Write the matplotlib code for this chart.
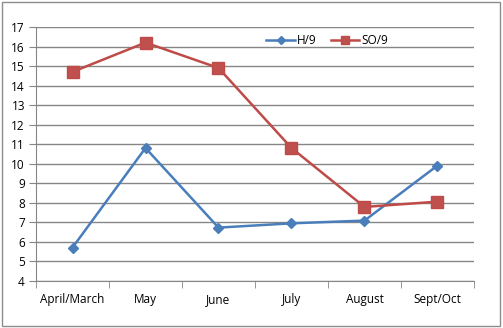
import matplotlib
matplotlib.use("Agg")
import matplotlib.pyplot as plt
from matplotlib.patches import Rectangle

months = ["April/March", "May", "June", "July", "August", "Sept/Oct"]
h9 = [5.7, 10.8, 6.72, 6.94, 7.08, 9.9]
so9 = [14.7, 16.2, 14.9, 10.8, 7.78, 8.05]

plt.rcParams["font.family"] = ["Open Sans", "DejaVu Sans"]

fig = plt.figure(figsize=(5.03, 3.28), dpi=100)
ax = fig.add_axes([0.0716, 0.1442, 0.8707, 0.7735])

# outer chart border
fig.patches.append(Rectangle((0.004, 0.007), 0.991, 0.988, transform=fig.transFigure,
                             fill=False, edgecolor="#8c8c8c", linewidth=1.0))

x = list(range(len(months)))
ax.plot(x, h9, color="#4A7EBB", linewidth=1.8, marker="D", markersize=5.5,
        markerfacecolor="#4A7EBB", markeredgecolor="#4A7EBB", label="H/9", zorder=3)
ax.plot(x, so9, color="#BE4B48", linewidth=1.8, marker="s", markersize=8,
        markerfacecolor="#C0504D", markeredgecolor="#BE4B48", label="SO/9", zorder=3)

ax.set_xlim(-0.5, len(months) - 0.5)
ax.set_ylim(4, 17)
ax.set_yticks(range(4, 18))
ax.set_xticks(x)
ax.set_xticklabels(months)
ax.set_xticks([i - 0.5 for i in range(len(months) + 1)], minor=True)
ax.tick_params(axis="x", which="major", length=0, pad=9, labelsize=8.5)
ax.tick_params(axis="x", which="minor", length=5, direction="out", color="#868686")
ax.tick_params(axis="y", length=5, direction="out", color="#868686", labelsize=8.5, pad=3)

ax.grid(axis="y", color="#868686", linewidth=1.0)
ax.set_axisbelow(True)
for side in ["top", "right"]:
    ax.spines[side].set_visible(False)
for side in ["left", "bottom"]:
    ax.spines[side].set_color("#868686")

ax.legend(loc="upper left", bbox_to_anchor=(0.51, 1.0), ncol=2, frameon=False,
          fontsize=8.5, handlelength=2.4, handletextpad=0.2, columnspacing=1.2,
          borderaxespad=0.2, markerscale=0.8)

fig.savefig("out.png", dpi=100)
